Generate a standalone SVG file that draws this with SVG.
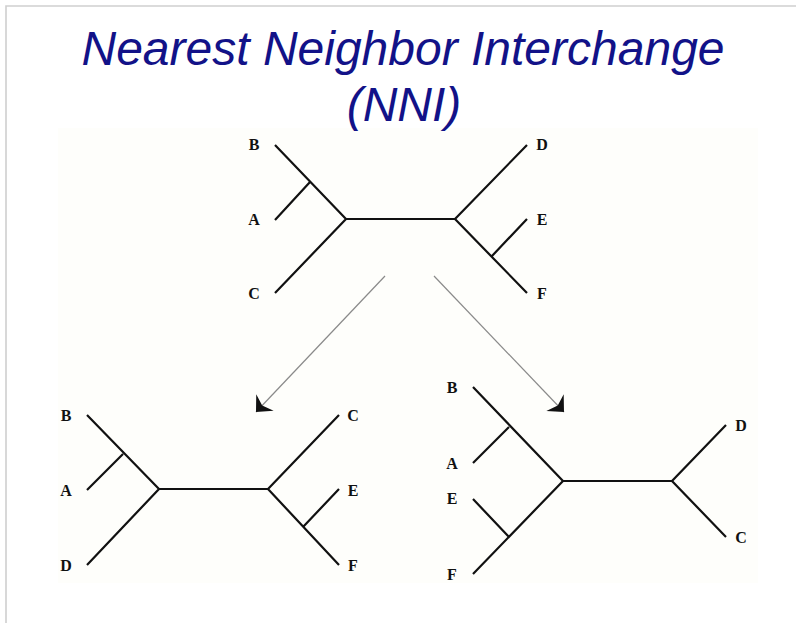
<svg xmlns="http://www.w3.org/2000/svg" width="796" height="623" viewBox="0 0 796 623">
<defs>
<style>
.br{stroke:#111;stroke-width:2.2;fill:none;stroke-linecap:butt}
.lb{font-family:"Liberation Serif","Times New Roman",serif;font-weight:bold;font-size:16px;fill:#111;text-anchor:middle;dominant-baseline:central}
.ttl{font-family:"Liberation Sans",Arial,sans-serif;font-style:italic;font-size:48px;fill:#121288;text-anchor:middle}
.arr{stroke:#8a8a8a;stroke-width:1.2;fill:none}
</style>
<marker id="ah" viewBox="-16 -16 18 32" refX="0" refY="0" markerWidth="18" markerHeight="32" markerUnits="userSpaceOnUse" orient="auto">
<path d="M0,0 L-13,-12 L-9,0 L-13,12 Z" fill="#111"/>
</marker>
</defs>
<rect width="796" height="623" fill="#fff"/>
<path d="M6,623 V6 H796" stroke="#cfcfcf" stroke-width="1.6" fill="none"/>
<rect x="58" y="128" width="700" height="455" fill="#fefefb"/>
<g id="title">
<text class="ttl" x="403" y="65">Nearest Neighbor Interchange</text>
<text class="ttl" x="404" y="121">(NNI)</text>
</g>
<g id="tree-top">
<path class="br" d="M275,145 L346,219 L275,293 M310,182 L275,220 M346,219 H455 M527,145 L455,219 L527,293 M492,256 L527,219"/>
<text class="lb" x="254" y="144">B</text>
<text class="lb" x="254" y="219">A</text>
<text class="lb" x="254" y="293">C</text>
<text class="lb" x="542" y="144">D</text>
<text class="lb" x="542" y="219">E</text>
<text class="lb" x="542" y="293">F</text>
</g>
<g id="tree-left">
<path class="br" d="M87,415 L159,489 L87,565 M123,454 L87,490 M159,489 H268 M339,415 L268,489 L339,565 M303,527 L339,489"/>
<text class="lb" x="66" y="415">B</text>
<text class="lb" x="66" y="490">A</text>
<text class="lb" x="66" y="565">D</text>
<text class="lb" x="353" y="415">C</text>
<text class="lb" x="353" y="490">E</text>
<text class="lb" x="353" y="565">F</text>
</g>
<g id="tree-right">
<path class="br" d="M473,387 L563,481 L473,574 M509,427 L473,463 M473,499 L509,537 M563,481 H672 M726,425 L672,481 L726,537"/>
<text class="lb" x="452" y="387">B</text>
<text class="lb" x="452" y="463">A</text>
<text class="lb" x="452" y="498">E</text>
<text class="lb" x="452" y="574">F</text>
<text class="lb" x="741" y="425">D</text>
<text class="lb" x="741" y="537">C</text>
</g>
<g id="connectors">
<line class="arr" x1="385" y1="276" x2="256" y2="412" marker-end="url(#ah)"/>
<line class="arr" x1="434" y1="276" x2="564" y2="412" marker-end="url(#ah)"/>
</g>
</svg>
